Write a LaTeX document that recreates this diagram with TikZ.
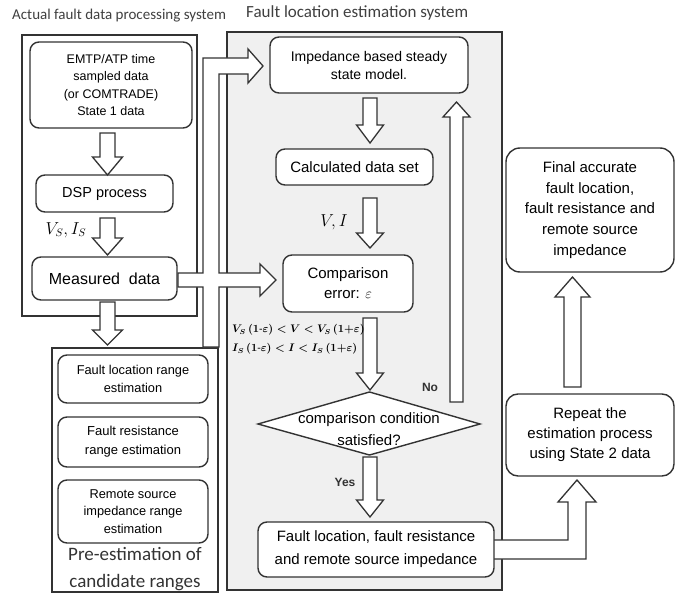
\documentclass[tikz,border=0pt]{standalone}
\usepackage{fontspec}
\setmainfont{Liberation Sans}
\newfontfamily\calibrifont{Carlito}
\usepackage{amsmath}
\usetikzlibrary{shapes.geometric}
\newcommand\fsz[2]{\fontsize{#1}{#2}\selectfont}
% down hollow arrow: x, top, tip, shaft half width, head half width, head length
\newcommand\dnarr[6]{%
  \draw[hollow] (#1-#4,#2) -- (#1+#4,#2) -- (#1+#4,#3-#6) -- (#1+#5,#3-#6) -- (#1,#3)
    -- (#1-#5,#3-#6) -- (#1-#4,#3-#6) -- cycle;}
% up hollow arrow: x, bottom, tip, shaft half width, head half width, head length
\newcommand\uparr[6]{%
  \draw[hollow] (#1-#4,#2) -- (#1+#4,#2) -- (#1+#4,#3+#6) -- (#1+#5,#3+#6) -- (#1,#3)
    -- (#1-#5,#3+#6) -- (#1-#4,#3+#6) -- cycle;}
\begin{document}
\begin{tikzpicture}[x=1pt,y=-1pt,
  box/.style={draw=black!80, line width=1.4pt, rounded corners=9pt, fill=white,
    align=center, inner sep=0pt},
  frame/.style={draw=black!80, line width=1.4pt, inner sep=0pt},
  hollow/.style={draw=black!80, line width=1.3pt, fill=white, line join=miter},
  lbl/.style={inner sep=0pt}]
\useasboundingbox (0,0) rectangle (681,594);
\fill[white] (0,0) rectangle (681,594);

% titles
\node[lbl, font=\calibrifont\fsz{15}{18}, anchor=west, text=black!75] (t1) at (12,16) {Actual fault data processing system};
\node[lbl, font=\calibrifont\fsz{17}{20}, anchor=west, text=black!75] (t2) at (246,13) {Fault location estimation system};

% frames
\node[frame, fill=black!6, minimum width=275pt, minimum height=558pt] (gsys) at (364.5,311) {};
\node[frame, fill=white, minimum width=175pt, minimum height=281pt] (lsys) at (109.5,175.5) {};
\node[frame, fill=white, minimum width=166pt, minimum height=244pt] (psys) at (135,470) {};

% big hollow arrow from measured data to the model and to the comparison
\draw[hollow] (178,273) -- (203,273) -- (203,58) -- (248,58) -- (248,49) -- (263,66)
  -- (248,83) -- (248,74) -- (219,74) -- (219,273) -- (260,273) -- (260,264) -- (276,280)
  -- (260,296) -- (260,287) -- (219,287) -- (219,347) -- (203,347) -- (203,287)
  -- (178,287) -- cycle;

% L arrow from fault location to repeat
\draw[hollow] (490,540) -- (568,540) -- (568,502) -- (558,502) -- (577,480) -- (596,502)
  -- (586,502) -- (586,559) -- (490,559) -- cycle;

% left column
\node[box, minimum width=162pt, minimum height=86pt, font=\fsz{12.5}{17.5}] (emtp) at (111,85)
  {EMTP/ATP time\\sampled data\\(or COMTRADE)\\State 1 data};
\node[box, minimum width=137pt, minimum height=37pt, font=\fsz{14.5}{18}] (dsp) at (104.5,193.5) {DSP process};
\node[box, minimum width=145pt, minimum height=43pt, font=\fsz{16}{20}] (meas) at (104.5,278.5) {Measured\ \ data};

\dnarr{107.5}{133}{175}{7.5}{15}{18}
\dnarr{107.5}{218}{255}{7.5}{15}{17}
\dnarr{107.5}{302}{345}{7.5}{15}{15}
\node[lbl, font=\fsz{16}{18}] (vsis) at (66,230) {$V_S, I_S$};

% pre-estimation
\node[box, minimum width=150pt, minimum height=48pt, font=\fsz{12.8}{18}] (flr) at (133,379) {Fault location range\\estimation};
\node[box, minimum width=150pt, minimum height=50pt, font=\fsz{13}{19}] (frr) at (133,442) {Fault resistance\\range estimation};
\node[box, minimum width=150pt, minimum height=63pt, font=\fsz{12.8}{17.5}] (rsr) at (133,511.5) {Remote source\\impedance range\\estimation};
\node[lbl, align=center, font=\calibrifont\fsz{19}{27}, text=black!80] (pre) at (135,569) {Pre-estimation of\\candidate ranges};

% middle column
\node[box, minimum width=198pt, minimum height=56pt, font=\fsz{14}{18}] (imp) at (369,65) {Impedance based steady\\state model.};
\node[box, minimum width=157pt, minimum height=36pt, font=\fsz{15}{18}] (calc) at (354.5,167) {Calculated data set};
\node[box, minimum width=130pt, minimum height=57pt, font=\fsz{15}{20}] (comp) at (348,283.5) {Comparison\\error: $\varepsilon$};
\draw[hollow, line width=1.4pt] (258,424) -- (369.5,392) -- (480,424) -- (369.5,455) -- cycle;
\node[lbl, align=center, font=\fsz{15}{22}] (dia) at (369,429) {comparison condition\\satisfied?};
\node[box, minimum width=236pt, minimum height=55pt, font=\fsz{15}{23}] (floc) at (376,549.5) {Fault location, fault resistance\\and remote source impedance};

\dnarr{370}{98}{143}{7}{13.5}{18}
\dnarr{370}{198}{248}{7}{13.5}{15}
\dnarr{370}{318}{390}{7}{13.5}{17}
\dnarr{370}{457}{517}{7}{13.5}{17}
\uparr{456.5}{402}{102}{6.5}{13.5}{15}

\node[lbl, font=\fsz{16}{18}] (vi) at (334,222) {$V, I$};
\node[lbl, anchor=north west, align=left, font={\boldmath\fsz{10.5}{19}}] (cond) at (232,324)
  {$V_S\,(1\text{-}\varepsilon) < V < V_S\,(1{+}\varepsilon)$\\$I_S\,(1\text{-}\varepsilon) < I < I_S\,(1{+}\varepsilon)$};
\node[lbl, font=\bfseries\fsz{12}{14}, text=black!80] (no) at (430,387) {No};
\node[lbl, font=\bfseries\fsz{12}{14}, text=black!80] (yes) at (345,482) {Yes};

% right column
\node[box, rounded corners=14pt, minimum width=168pt, minimum height=124pt, font=\fsz{15}{20.7}] (final) at (590,210)
  {Final accurate\\fault location,\\fault resistance and\\remote source\\impedance};
\node[box, rounded corners=12pt, minimum width=168pt, minimum height=82pt, font=\fsz{15}{20}] (rep) at (590,435)
  {Repeat the\\estimation process\\using State 2 data};
\uparr{572.5}{387}{277}{8.5}{17.5}{20}
\end{tikzpicture}
\end{document}
